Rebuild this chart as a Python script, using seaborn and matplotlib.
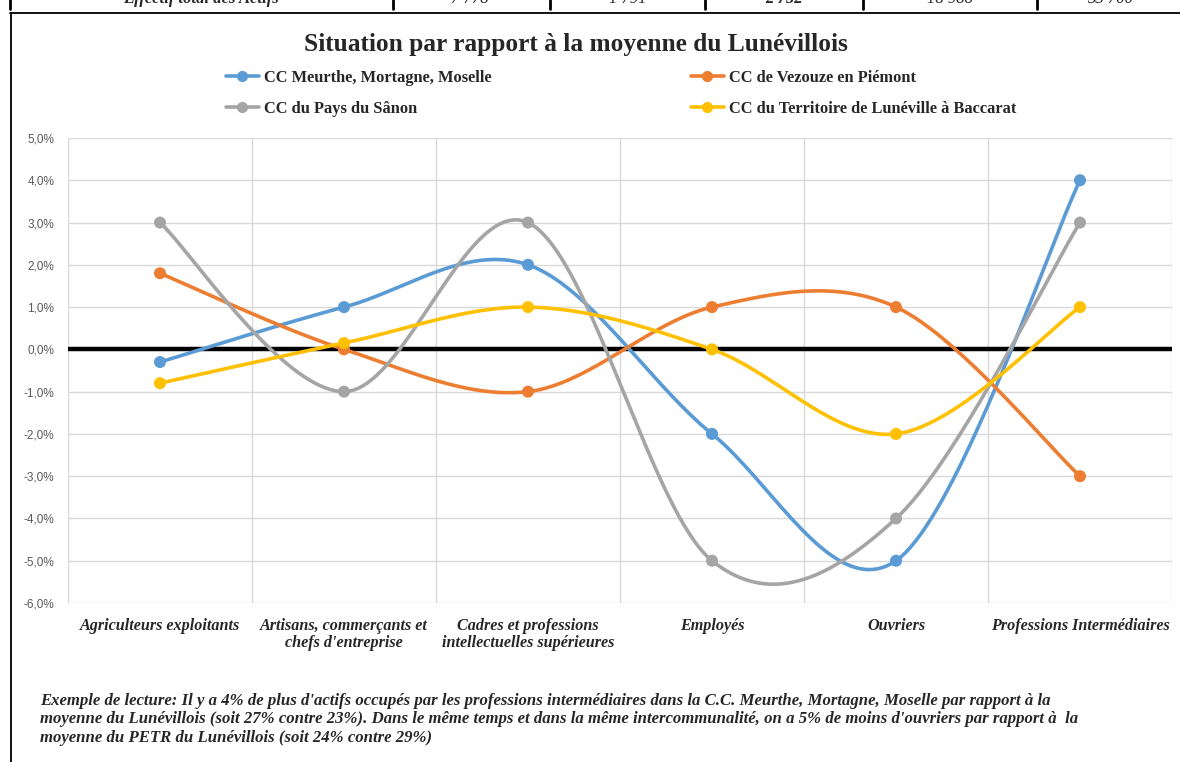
import numpy as np
import pandas as pd
import matplotlib
matplotlib.use('Agg')
import matplotlib.pyplot as plt
from matplotlib.lines import Line2D
import seaborn as sns

# Chart data (difference vs Lunévillois average, in %)
categories = ['Agriculteurs exploitants', 'Artisans, commerçants et\nchefs d\'entreprise',
              'Cadres et professions\nintellectuelles supérieures', 'Employés', 'Ouvriers',
              'Professions Intermédiaires']
series_names = ['CC Meurthe, Mortagne, Moselle', 'CC de Vezouze en Piémont',
                'CC du Pays du Sânon', 'CC du Territoire de Lunéville à Baccarat']
meurthe = [-0.3, 1.0, 2.0, -2.0, -5.0, 4.0]
vezouze = [1.8, 0.0, -1.0, 1.0, 1.0, -3.0]
sanon = [3.0, -1.0, 3.0, -5.0, -4.0, 3.0]
baccarat = [-0.8, 0.15, 1.0, 0.0, -2.0, 1.0]
colors = ['#5B9BD5', '#ED7D31', '#A5A5A5', '#FFC000']

# top table strip (cut off)
strip_label = 'Effectif total des Actifs'
strip_values = ['7 778', '1 791', '2 752', '18 988', '33 700']

W, H = 1180, 762


def fx(px):
    return px / W


def fy(py):
    return 1 - py / H


def smooth(xs, ys, n=40):
    # Excel-like smoothed line (Catmull-Rom as cubic Bezier)
    pts = np.column_stack([xs, ys]).astype(float)
    ext = np.vstack([pts[0], pts, pts[-1]])
    out = []
    t = np.linspace(0, 1, n)[:, None]
    for i in range(len(pts) - 1):
        p0, p1, p2, p3 = ext[i], ext[i + 1], ext[i + 2], ext[i + 3]
        c1 = p1 + (p2 - p0) / 6
        c2 = p2 - (p3 - p1) / 6
        seg = ((1 - t) ** 3) * p1 + 3 * ((1 - t) ** 2) * t * c1 + 3 * (1 - t) * t ** 2 * c2 + t ** 3 * p2
        out.append(seg if i == 0 else seg[1:])
    return np.vstack(out)


values = [meurthe, vezouze, sanon, baccarat]
x_idx = np.arange(len(categories))

points = pd.DataFrame({
    'x': np.tile(x_idx, len(series_names)),
    'value': np.concatenate(values),
    'serie': np.repeat(series_names, len(categories)),
})
curves = []
for name, vals in zip(series_names, values):
    c = smooth(x_idx, vals)
    curves.append(pd.DataFrame({'x': c[:, 0], 'value': c[:, 1], 'serie': name}))
curves = pd.concat(curves, ignore_index=True)

sns.set_theme(style='white')
plt.rcParams['font.family'] = ['Liberation Serif', 'DejaVu Sans']
palette = dict(zip(series_names, colors))

fig = plt.figure(figsize=(11.8, 7.62), dpi=100)
ax = fig.add_axes([fx(68), fy(603), fx(1172) - fx(68), fy(138) - fy(603)])

for yv in np.arange(-6, 6, 1):
    ax.axhline(yv, color='#D9D9D9', lw=1, zorder=0)
for xv in np.arange(-0.5, 6, 1):
    ax.axvline(xv, color='#D9D9D9', lw=1, zorder=0)
ax.axhline(0, color='black', lw=3.2, zorder=1)

sns.lineplot(data=curves, x='x', y='value', hue='serie', palette=palette, sort=False,
             estimator=None, units='serie', lw=2.6, legend=False, ax=ax, zorder=3)
sns.scatterplot(data=points, x='x', y='value', hue='serie', palette=palette, s=75,
                edgecolor='none', legend=False, ax=ax, zorder=4)

ax.set_xlim(-0.5, 5.5)
ax.set_ylim(-6, 5)
for s in ax.spines.values():
    s.set_visible(False)
ax.set_xlabel('')
ax.set_ylabel('')
ax.set_xticks(x_idx)
ax.set_xticklabels(categories, fontsize=11.6, fontweight='bold', fontstyle='italic', linespacing=1.12)
ax.set_yticks(np.arange(-6, 6, 1))
ax.set_yticklabels([f'{v:.1f}%'.replace('.', ',') for v in np.arange(-6, 6, 1)],
                   fontsize=8.5, color='#595959', family=['Liberation Sans'])
ax.tick_params(axis='y', length=0, pad=10)
ax.tick_params(axis='x', length=0, pad=10.5)

fig.text(fx(576), fy(44), 'Situation par rapport à la moyenne du Lunévillois',
         ha='center', va='center', fontsize=18.3, fontweight='bold')

handles = [Line2D([], [], color=c, lw=2.6, marker='o', markersize=7) for c in colors]
leg_kw = dict(frameon=False, handlelength=2.0, handletextpad=0.3,
              labelspacing=0.9, borderpad=0, borderaxespad=0, prop={'weight': 'bold', 'size': 11.8})
fig.legend([handles[0], handles[2]], [series_names[0], series_names[2]],
           loc='upper left', bbox_to_anchor=(fx(226), fy(70)), **leg_kw)
fig.legend([handles[1], handles[3]], [series_names[1], series_names[3]],
           loc='upper left', bbox_to_anchor=(fx(691), fy(70)), **leg_kw)

note = ("Exemple de lecture: Il y a 4% de plus d'actifs occupés par les professions intermédiaires dans la C.C. Meurthe, Mortagne, Moselle par rapport à la\n"
        "moyenne du Lunévillois (soit 27% contre 23%). Dans le même temps et dans la même intercommunalité, on a 5% de moins d'ouvriers par rapport à  la\n"
        "moyenne du PETR du Lunévillois (soit 24% contre 29%)")
fig.text(fx(40), fy(693), note, ha='left', va='top', fontsize=12.1, fontweight='bold',
         fontstyle='italic', linespacing=1.2)

# frame around the chart
fig.add_artist(Line2D([fx(10), fx(1180)], [fy(12.5), fy(12.5)], color='black', lw=1.3))
fig.add_artist(Line2D([fx(10.5), fx(10.5)], [fy(12.5), fy(762)], color='black', lw=1.3))

# clipped table row above the chart
for xs in [10, 393, 550, 705, 863, 1037]:
    fig.add_artist(Line2D([fx(xs), fx(xs)], [fy(0), fy(9)], color='black', lw=2))
fig.text(fx(201), fy(-1), strip_label, ha='center', va='center', fontsize=12,
         fontweight='bold', fontstyle='italic')
for xc, v in zip([470, 628, 784, 950, 1110], strip_values):
    fig.text(fx(xc), fy(-1), v, ha='center', va='center', fontsize=12,
             fontweight='bold' if v == '2 752' else 'normal', fontstyle='italic')

fig.savefig('out.png', dpi=100)
